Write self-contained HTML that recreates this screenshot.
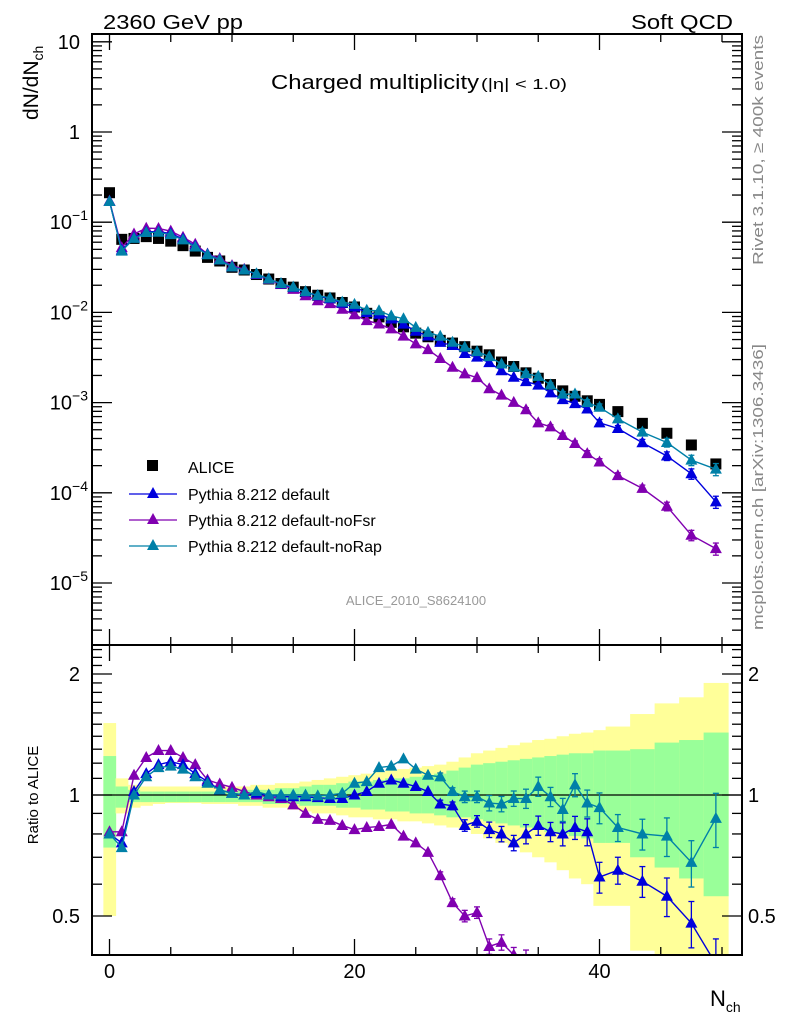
<!DOCTYPE html>
<html><head><meta charset="utf-8"><style>
html,body{margin:0;padding:0;background:#fff;width:786px;height:1024px;overflow:hidden;font-size:0;line-height:0}
svg{display:block;position:absolute;left:0;top:0;font-family:"Liberation Sans",Arial,sans-serif}
</style></head><body>
<svg id="chart" width="786" height="1024" viewBox="0 0 786 1024" xmlns="http://www.w3.org/2000/svg">
<defs>
<clipPath id="clipTop"><rect x="92" y="34" width="650" height="611"/></clipPath>
<clipPath id="clipBot"><rect x="92" y="645" width="650" height="310"/></clipPath>
</defs>
<g id="bands" clip-path="url(#clipBot)"></g>
<g id="grid"></g>
<g id="series-top" clip-path="url(#clipTop)"></g>
<g id="series-bot" clip-path="url(#clipBot)"></g>
<g id="axes"></g>
<text x="103" y="29" font-size="20" textLength="140" lengthAdjust="spacingAndGlyphs">2360 GeV pp</text>
<text x="733" y="29" font-size="20" text-anchor="end" textLength="102" lengthAdjust="spacingAndGlyphs">Soft QCD</text>
<text x="271" y="89" font-size="20" textLength="208" lengthAdjust="spacingAndGlyphs">Charged multiplicity</text>
<text x="481" y="89" font-size="15" textLength="86" lengthAdjust="spacingAndGlyphs">(|η| &lt; 1.0)</text>
<text transform="translate(38,120) rotate(-90)" font-size="21">dN/dN<tspan font-size="14" dy="5">ch</tspan></text>
<text transform="translate(38,795) rotate(-90)" font-size="15" text-anchor="middle">Ratio to ALICE</text>
<text transform="translate(763,265) rotate(-90)" font-size="15" fill="#888" textLength="230" lengthAdjust="spacingAndGlyphs">Rivet 3.1.10, ≥ 400k events</text>
<text transform="translate(763,630) rotate(-90)" font-size="15" fill="#888" textLength="286" lengthAdjust="spacingAndGlyphs">mcplots.cern.ch [arXiv:1306.3436]</text>
<text x="416" y="605" font-size="13" fill="#999" text-anchor="middle">ALICE_2010_S8624100</text>
<text x="710" y="1006" font-size="22">N<tspan font-size="14" dy="6">ch</tspan></text>
<g id="legend">
<rect x="147" y="460" width="11" height="11" fill="#000"/>
<text x="188" y="473" font-size="16">ALICE</text>
<line x1="129" y1="494" x2="177" y2="494" stroke="#0000dd" stroke-width="1.3"/>
<polygon points="153,487 159,498 147,498" fill="#0000dd"/>
<text x="188" y="500" font-size="16">Pythia 8.212 default</text>
<line x1="129" y1="520" x2="177" y2="520" stroke="#8000b0" stroke-width="1.3"/>
<polygon points="153,513 159,524 147,524" fill="#8000b0"/>
<text x="188" y="526" font-size="16">Pythia 8.212 default-noFsr</text>
<line x1="129" y1="546" x2="177" y2="546" stroke="#0080a8" stroke-width="1.3"/>
<polygon points="153,539 159,550 147,550" fill="#0080a8"/>
<text x="188" y="552" font-size="16">Pythia 8.212 default-noRap</text>
</g>
</svg>
<script>
// ---- data ----
const nch = [0,1,2,3,4,5,6,7,8,9,10,11,12,13,14,15,16,17,18,19,20,21,22,23,24,25,26,27,28,29,30,31,32,33,34,35,36,37,38,39,40,41.5,43.5,45.5,47.5,49.5];
const binHalf = [0.5,0.5,0.5,0.5,0.5,0.5,0.5,0.5,0.5,0.5,0.5,0.5,0.5,0.5,0.5,0.5,0.5,0.5,0.5,0.5,0.5,0.5,0.5,0.5,0.5,0.5,0.5,0.5,0.5,0.5,0.5,0.5,0.5,0.5,0.5,0.5,0.5,0.5,0.5,0.5,0.5,1,1,1,1,1];
// log10 of ALICE dN/dNch
const aliceLog = [-0.673,-1.19,-1.18,-1.16,-1.18,-1.21,-1.26,-1.32,-1.39,-1.43,-1.50,-1.53,-1.58,-1.63,-1.68,-1.72,-1.77,-1.81,-1.84,-1.89,-1.94,-2.01,-2.05,-2.11,-2.16,-2.23,-2.27,-2.31,-2.34,-2.38,-2.43,-2.47,-2.55,-2.60,-2.67,-2.73,-2.80,-2.87,-2.93,-2.98,-3.02,-3.10,-3.23,-3.34,-3.47,-3.68];
const ratioDefault = [0.80,0.76,1.02,1.13,1.19,1.21,1.19,1.13,1.08,1.03,1.01,1.0,1.01,1.0,0.99,0.99,0.99,0.985,0.98,0.98,1.0,1.02,1.07,1.09,1.07,1.05,1.02,0.95,0.94,0.84,0.86,0.82,0.80,0.76,0.80,0.84,0.81,0.80,0.83,0.81,0.625,0.65,0.61,0.56,0.48,0.38];
const ratioNoFsr = [0.81,0.81,1.12,1.24,1.29,1.29,1.24,1.19,1.09,1.065,1.045,1.02,1.0,0.99,0.98,0.945,0.90,0.87,0.865,0.84,0.82,0.83,0.835,0.845,0.79,0.76,0.72,0.63,0.54,0.50,0.51,0.42,0.43,0.40,0.39,0.32,0.34,0.32,0.30,0.26,0.23,0.195,0.19,0.155,0.10,0.115];
const ratioNoRap = [0.80,0.74,1.0,1.11,1.17,1.18,1.16,1.11,1.07,1.03,1.01,1.0,1.02,1.0,1.0,1.0,1.0,0.995,1.0,1.01,1.07,1.08,1.17,1.18,1.23,1.16,1.12,1.11,1.02,0.99,0.99,0.955,0.95,0.98,0.98,1.05,0.99,0.92,1.06,0.955,0.93,0.83,0.80,0.79,0.68,0.875];
// relative stat error of model points (fraction)
const modelErr = [0,0,0,0,0,0,0,0,0,0,0,0,0,0,0,0,0,0,0,0,0,0,0,0,0,0,0,0.01,0.01,0.015,0.015,0.02,0.02,0.02,0.025,0.025,0.025,0.03,0.03,0.035,0.04,0.035,0.04,0.05,0.06,0.07];
const yellowUp = [1.51,1.10,1.06,1.05,1.05,1.05,1.05,1.05,1.05,1.05,1.05,1.05,1.06,1.06,1.07,1.07,1.08,1.09,1.10,1.11,1.12,1.13,1.14,1.15,1.16,1.17,1.18,1.19,1.21,1.24,1.27,1.29,1.31,1.33,1.35,1.37,1.38,1.40,1.42,1.43,1.45,1.48,1.59,1.69,1.75,1.90];
const greenUp = [1.25,1.05,1.03,1.02,1.02,1.02,1.02,1.02,1.02,1.02,1.02,1.03,1.03,1.03,1.04,1.04,1.05,1.06,1.06,1.07,1.08,1.08,1.09,1.10,1.10,1.11,1.12,1.13,1.15,1.17,1.19,1.20,1.21,1.22,1.23,1.24,1.25,1.26,1.27,1.27,1.29,1.29,1.30,1.35,1.37,1.43];
const greenDn = [0.74,0.93,0.96,0.96,0.96,0.96,0.96,0.96,0.96,0.96,0.96,0.96,0.96,0.95,0.95,0.95,0.94,0.94,0.94,0.93,0.93,0.92,0.92,0.91,0.91,0.90,0.90,0.89,0.88,0.88,0.87,0.86,0.85,0.84,0.83,0.82,0.81,0.80,0.79,0.78,0.76,0.76,0.70,0.66,0.62,0.56];
const yellowDn = [0.50,0.90,0.93,0.94,0.95,0.955,0.955,0.955,0.95,0.95,0.95,0.94,0.94,0.93,0.93,0.92,0.91,0.90,0.90,0.89,0.88,0.88,0.87,0.87,0.86,0.86,0.85,0.84,0.83,0.82,0.80,0.78,0.76,0.74,0.72,0.70,0.68,0.65,0.62,0.60,0.53,0.53,0.41,0.38,0.38,0.38];
const xTicks = [0,20,40];
const yTopDecades = [1,0,-1,-2,-3,-4,-5];
const ratioLabels = [0.5,1,2];

// ---- axes ----
const NS = "http://www.w3.org/2000/svg";
const X0 = 92, X1 = 742, TT = 34, TB = 645, BB = 955;
const xs = n => 109.5 + 12.25 * n;
const yTop = lg => 132 - 90.2 * lg;
const yRat = r => 795 - 402 * Math.log10(r);
function mk(tag, attrs, parent) {
  const e = document.createElementNS(NS, tag);
  for (const k in attrs) e.setAttribute(k, attrs[k]);
  parent.appendChild(e);
  return e;
}
const axes = document.getElementById('axes');
const bands = document.getElementById('bands');
const sTop = document.getElementById('series-top');
const sBot = document.getElementById('series-bot');

nch.forEach((n, i) => {
  const x1 = xs(n - binHalf[i]), x2 = xs(n + binHalf[i]);
  const y = mk('rect', {x: x1, y: yRat(yellowUp[i]), width: x2 - x1 + 0.5, height: yRat(yellowDn[i]) - yRat(yellowUp[i]), fill: '#ffff99'}, bands);
  
  
  const g = mk('rect', {x: x1, y: yRat(greenUp[i]), width: x2 - x1 + 0.5, height: yRat(greenDn[i]) - yRat(greenUp[i]), fill: '#99ff99'}, bands);
  
  
});
mk('line', {x1: X0, x2: X1, y1: yRat(1), y2: yRat(1), stroke: '#000', 'stroke-width': 1.2}, sBot);

const fTop = mk('rect', {x: X0, y: TT, width: X1 - X0, height: TB - TT, fill: 'none', stroke: '#000', 'stroke-width': 2}, axes);


const fBot = mk('rect', {x: X0, y: TB, width: X1 - X0, height: BB - TB, fill: 'none', stroke: '#000', 'stroke-width': 2}, axes);



for (let v = 0; v <= 50; v += 5) {
  const maj = v % 20 === 0;
  const L = maj ? 16 : 8, x = xs(v);
  [[TT, 1], [TB, -1], [TB, 1], [BB, -1]].forEach(([y, d]) => mk('line', {x1: x, x2: x, y1: y, y2: y + d * L, stroke: '#000', 'stroke-width': 1.3}, axes));
}
xTicks.forEach(v => {
  const t = mk('text', {x: xs(v), y: 978, 'font-size': 20, 'text-anchor': 'middle'}, axes);
  t.textContent = v;
  
  
});

for (let d = -6; d <= 1; d++) {
  for (let m = 1; m <= 9; m++) {
    const y = yTop(d + Math.log10(m));
    if (y < TT || y > TB) continue;
    const L = m === 1 ? 20 : 10;
    mk('line', {x1: X0, x2: X0 + L, y1: y, y2: y, stroke: '#000', 'stroke-width': 1.3}, axes);
    mk('line', {x1: X1, x2: X1 - L, y1: y, y2: y, stroke: '#000', 'stroke-width': 1.3}, axes);
  }
}
yTopDecades.forEach(d => {
  const t = mk('text', {x: 80, y: yTop(d) + 7, 'font-size': 20, 'text-anchor': 'end'}, axes);
  
  
  if (d === 1) t.textContent = '10';
  else if (d === 0) t.textContent = '1';
  else {
    t.textContent = '10';
    const s = document.createElementNS(NS, 'tspan');
    s.setAttribute('font-size', 14); s.setAttribute('dy', -9);
    s.textContent = '\u2212' + (-d);
    t.appendChild(s);
    t.setAttribute('x', 88);
  }
});

const rminor = [0.4,0.5,0.6,0.7,0.8,0.9,1,1.1,1.2,1.3,1.4,1.5,1.6,1.7,1.8,1.9,2,2.1,2.2,2.3];
rminor.forEach(r => {
  const y = yRat(r);
  if (y < TB || y > BB) return;
  const L = ratioLabels.includes(r) ? 20 : 10;
  mk('line', {x1: X0, x2: X0 + L, y1: y, y2: y, stroke: '#000', 'stroke-width': 1.3}, axes);
  mk('line', {x1: X1, x2: X1 - L, y1: y, y2: y, stroke: '#000', 'stroke-width': 1.3}, axes);
});
ratioLabels.forEach(r => {
  [[80, 'end'], [748, 'start']].forEach(([x, a]) => {
    const t = mk('text', {x: x, y: yRat(r) + 7, 'font-size': 20, 'text-anchor': a}, axes);
    t.textContent = r;
    
    
  });
});

function tri(parent, x, y, c, name) {
  const p = mk('polygon', {points: `${x},${y - 6.5} ${x + 6},${y + 4.5} ${x - 6},${y + 4.5}`, fill: c}, parent);
  
  
}
function ebar(parent, x, y1, y2, c) {
  if (Math.abs(y2 - y1) < 4) return;
  mk('line', {x1: x, x2: x, y1: y1, y2: y2, stroke: c, 'stroke-width': 1.3}, parent);
  mk('line', {x1: x - 3, x2: x + 3, y1: y1, y2: y1, stroke: c, 'stroke-width': 1.3}, parent);
  mk('line', {x1: x - 3, x2: x + 3, y1: y2, y2: y2, stroke: c, 'stroke-width': 1.3}, parent);
}
const models = [
  {r: ratioNoFsr, c: '#8000b0', n: 'nofsr'},
  {r: ratioDefault, c: '#0000dd', n: 'default'},
  {r: ratioNoRap, c: '#0080a8', n: 'norap'}
];
nch.forEach((n, i) => {
  const s = mk('rect', {x: xs(n) - 5.5, y: yTop(aliceLog[i]) - 5.5, width: 11, height: 11, fill: '#000'}, sTop);
  
  
});
models.forEach(m => {
  const ptsT = nch.map((n, i) => [xs(n), yTop(aliceLog[i] + Math.log10(m.r[i]))]);
  const ptsB = nch.map((n, i) => [xs(n), yRat(m.r[i])]);
  const l1 = mk('polyline', {points: ptsT.map(p => p.join(',')).join(' '), fill: 'none', stroke: m.c, 'stroke-width': 1.4}, sTop);
  
  
  const l2 = mk('polyline', {points: ptsB.map(p => p.join(',')).join(' '), fill: 'none', stroke: m.c, 'stroke-width': 1.4}, sBot);
  
  
  nch.forEach((n, i) => {
    const e = modelErr[i] * 2.2;
    ebar(sBot, xs(n), yRat(m.r[i] * (1 + e)), yRat(m.r[i] * (1 - e)), m.c);
    ebar(sTop, xs(n), yTop(aliceLog[i] + Math.log10(m.r[i] * (1 + e))), yTop(aliceLog[i] + Math.log10(m.r[i] * (1 - e))), m.c);
  });
  ptsT.forEach(p => tri(sTop, p[0], p[1], m.c, m.n + '-point'));
  ptsB.forEach(p => tri(sBot, p[0], p[1], m.c, m.n + '-ratio-point'));
});
</script>
</body></html>
